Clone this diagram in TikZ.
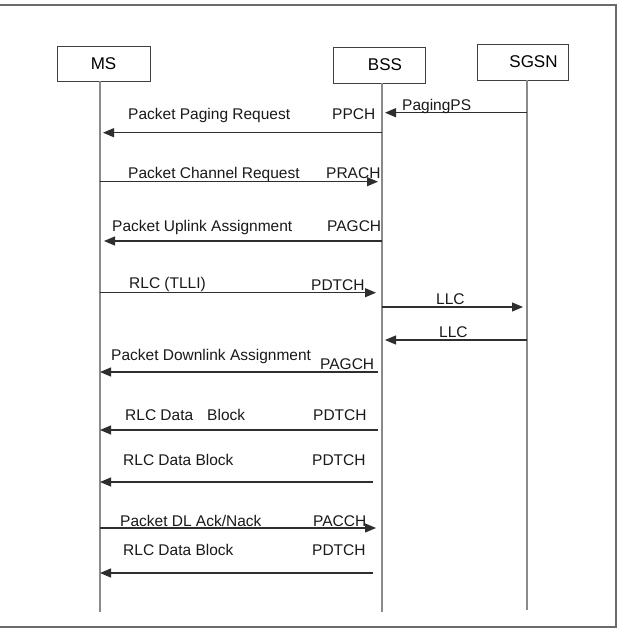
\documentclass[tikz,border=0pt]{standalone}
\usepackage{fontspec}
\setmainfont{Liberation Sans}
\usetikzlibrary{arrows.meta}
\definecolor{framegray}{HTML}{6A6A6A}
\definecolor{lifegray}{HTML}{8A8A8A}
\definecolor{arrowgray}{HTML}{2E2E2E}
\tikzset{
  entity/.style={draw=black!75, line width=1pt, fill=white, inner sep=0pt,
    font=\fontsize{17}{20}\selectfont},
  lifeline/.style={draw=lifegray, line width=1.5pt},
  msg/.style={draw=arrowgray, line width=1.2pt, -{Triangle[length=11pt,width=9pt]}},
  lbl/.style={inner sep=0pt, anchor=base west, font=\fontsize{15.5}{18}\selectfont, text=black!90}
}
\begin{document}
\begin{tikzpicture}[x=1pt,y=-1pt]
\useasboundingbox (0,0) rectangle (618,635);
\fill[white] (0,0) rectangle (618,635);
% frame
\draw[framegray, line width=1.5pt] (0,5) -- (616,5) -- (616,627) -- (0,627);

% entity boxes
\node[entity, minimum width=93pt, minimum height=35pt] (ms) at (103.5,63.5) {MS};
\node[entity, minimum width=92pt, minimum height=36pt] (bss) at (379,65) {\hspace*{12pt}\raisebox{-3pt}{BSS}};
\node[entity, minimum width=91pt, minimum height=36pt] (sgsn) at (522.5,62) {\hspace*{22pt}SGSN};

% lifelines
\coordinate (msT) at (100,81);
\coordinate (msB) at (100,612);
\coordinate (bssT) at (382,83);
\coordinate (bssB) at (382,612);
\coordinate (sgsnT) at (527,80);
\coordinate (sgsnB) at (527,610);
\draw[lifeline] (msT) -- (msB);
\draw[lifeline] (bssT) -- (bssB);
\draw[lifeline] (sgsnT) -- (sgsnB);

% message end points
\coordinate (p1s) at (527,112.7); \coordinate (p1e) at (385,112.7);
\coordinate (p2s) at (382,132.7); \coordinate (p2e) at (103,132.7);
\coordinate (p3s) at (100,181.7); \coordinate (p3e) at (378,181.7);
\coordinate (p4s) at (382,241);   \coordinate (p4e) at (104,241);
\coordinate (p5s) at (100,292.7); \coordinate (p5e) at (376,292.7);
\coordinate (p6s) at (382,307);   \coordinate (p6e) at (523,307);
\coordinate (p7s) at (527,340);   \coordinate (p7e) at (385,340);
\coordinate (p8s) at (378,372);   \coordinate (p8e) at (100,372);
\coordinate (p9s) at (378,430);   \coordinate (p9e) at (100,430);
\coordinate (p10s) at (373,482);  \coordinate (p10e) at (100,482);
\coordinate (p11s) at (100,528);  \coordinate (p11e) at (376,528);
\coordinate (p12s) at (373,573);  \coordinate (p12e) at (100,573);

\draw[msg] (p1s) -- (p1e);
\draw[msg] (p2s) -- (p2e);
\draw[msg] (p3s) -- (p3e);
\draw[msg] (p4s) -- (p4e);
\draw[msg] (p5s) -- (p5e);
\draw[msg] (p6s) -- (p6e);
\draw[msg] (p7s) -- (p7e);
\draw[msg] (p8s) -- (p8e);
\draw[msg] (p9s) -- (p9e);
\draw[msg] (p10s) -- (p10e);
\draw[msg] (p11s) -- (p11e);
\draw[msg] (p12s) -- (p12e);

% labels
\node[lbl] (l1) at (402,110.5) {PagingPS};
\node[lbl] (l2) at (128,119) {Packet Paging Request};
\node[lbl] (c2) at (332,119) {PPCH};
\node[lbl] (l3) at (128,178.5) {Packet Channel Request};
\node[lbl] (c3) at (326,178) {PRACH};
\node[lbl] (l4) at (112,231.5) {Packet Uplink Assignment};
\node[lbl] (c4) at (327,231) {PAGCH};
\node[lbl] (l5) at (129,288) {RLC (TLLI)};
\node[lbl] (c5) at (311,290.5) {PDTCH};
\node[lbl] (l6) at (436,304) {LLC};
\node[lbl] (l7) at (439,337) {LLC};
\node[lbl] (l8) at (111,360.5) {Packet Downlink Assignment};
\node[lbl] (c8) at (320,369) {PAGCH};
\node[lbl] (l9) at (125,420.5) {RLC Data\hspace{14pt}Block};
\node[lbl] (c9) at (313,420) {PDTCH};
\node[lbl] (l10) at (123,465) {RLC Data Block};
\node[lbl] (c10) at (312,465) {PDTCH};
\node[lbl] (l11) at (120,526) {Packet DL Ack/Nack};
\node[lbl] (c11) at (313,526) {PACCH};
\node[lbl] (l12) at (123,555.5) {RLC Data Block};
\node[lbl] (c12) at (312,555) {PDTCH};
\end{tikzpicture}
\end{document}
